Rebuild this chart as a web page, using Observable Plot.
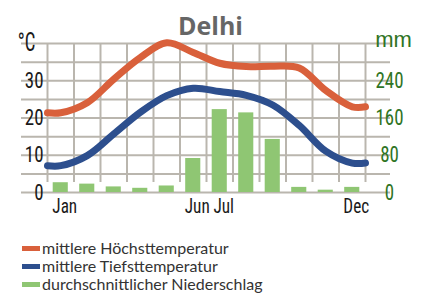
<!DOCTYPE html>
<html>
<head>
<meta charset="utf-8">
<script src="https://cdn.jsdelivr.net/npm/d3@7"></script>
<script src="https://cdn.jsdelivr.net/npm/@observablehq/plot@0.6"></script>
<style>
  html, body { margin: 0; padding: 0; background: #fff; }
  #wrap { position: relative; width: 430px; height: 299px; overflow: hidden; }
  #legend { position: absolute; left: 22px; top: 239px; font-family: "Lato", "Noto Sans", sans-serif; font-size: 16px; color: #333; }
  #legend .row { height: 18px; line-height: 18px; display: flex; align-items: center; white-space: nowrap; }
  #legend .sw { display: inline-block; width: 18px; height: 5px; margin-right: 2px; }
</style>
</head>
<body>
<div id="wrap">
  <div id="chart"></div>
  <div id="legend"></div>
</div>
<script>
const title = "Delhi";
const months = ["Jan","Feb","Mar","Apr","May","Jun","Jul","Aug","Sep","Oct","Nov","Dec"];
const monthTicks = ["Jan","Jun","Jul","Dec"];
const highTemp = [21.4, 24.1, 30.4, 36.2, 40.2, 37.6, 34.7, 33.8, 33.9, 33.4, 27.4, 23.0];
const lowTemp  = [7.2, 9.9, 15.7, 21.5, 26.0, 28.0, 27.1, 26.1, 23.5, 18.0, 11.1, 7.9];
const precip   = [21, 18, 12, 9, 14, 73, 178, 171, 114, 11, 5, 11];
const tempTicks = [0, 10, 20, 30];
const precipTicks = [0, 80, 160, 240];
const tempUnit = "°C";
const precipUnit = "mm";
const legendLabels = ["mittlere Höchsttemperatur", "mittlere Tiefsttemperatur", "durchschnittlicher Niederschlag"];
const colors = { high: "#d9603b", low: "#2d4f8e", precip: "#8fc673", grid: "#bab6ae", green: "#2f7424" };

const mmPerDeg = precipTicks[1] / tempTicks[1];
const rows = months.map((m, i) => ({ month: m, i: i + 1, high: highTemp[i], low: lowTemp[i], p: precip[i] / mmPerDeg }));
// extend curves flat to the frame edges
const edge = (key) => [{ i: 0.5, v: rows[0][key] }, ...rows.map(r => ({ i: r.i, v: r[key] })), { i: 12.5, v: rows[11][key] }];

const numFont = "'Roboto Condensed', 'DejaVu Sans Condensed', sans-serif";

const chart = Plot.plot({
  width: 430,
  height: 230,
  marginLeft: 47,
  marginRight: 65,
  marginTop: 43,
  marginBottom: 38,
  style: { fontFamily: numFont, background: "transparent", overflow: "visible" },
  x: { domain: [0.5, 12.5], axis: null },
  y: { domain: [0, 40], axis: null },
  marks: [
    Plot.ruleY(d3.range(0, 41, 5), { stroke: colors.grid, strokeWidth: 2, insetLeft: -26, insetRight: -25 }),
    Plot.ruleX(d3.range(0.5, 12.6, 1), { y1: 0, y2: 40, stroke: colors.grid, strokeWidth: 2, insetTop: -10 }),
    Plot.rectY(rows, { x1: d => d.i - 0.5, x2: d => d.i + 0.5, y1: 0, y2: "p", fill: colors.precip, insetLeft: 5.7, insetRight: 5.7 }),
    Plot.line(edge("high"), { x: "i", y: "v", stroke: colors.high, strokeWidth: 7, curve: "catmull-rom" }),
    Plot.line(edge("low"), { x: "i", y: "v", stroke: colors.low, strokeWidth: 7, curve: "catmull-rom" }),
    Plot.axisY({ ticks: tempTicks, tickSize: 0, tickPadding: 4, fontSize: 22, fill: "#1a1a1a", label: null }),
    Plot.axisY({ anchor: "right", ticks: tempTicks, tickSize: 0, tickPadding: 24, textAnchor: "middle",
      tickFormat: (d) => precipTicks[tempTicks.indexOf(d)], fontSize: 22, fill: colors.green, label: null }),
    Plot.axisX({ ticks: monthTicks.map(m => months.indexOf(m) + 1), tickFormat: d => months[d - 1], tickSize: 0, tickPadding: 6, dx: 4, fontSize: 20, fill: "#1a1a1a", label: null }),
    Plot.text([tempUnit], { frameAnchor: "top-left", dx: -21, dy: -11, textAnchor: "middle", fontSize: 26, fill: "#1a1a1a" }),
    Plot.text([precipUnit], { frameAnchor: "top-right", dx: 28, dy: -12, textAnchor: "middle", fontSize: 22, fontFamily: "'Liberation Sans', sans-serif", fill: colors.green }),
    Plot.text([title], { frameAnchor: "top", dx: 4, dy: -26, fontSize: 25, fontWeight: "bold", fontFamily: "'Open Sans', sans-serif", fill: "#666" })
  ]
});
document.getElementById("chart").appendChild(chart);

// condense glyphs horizontally to mimic the narrow typeface of the original
function condenseText(t, ratio) {
  const w = t.getComputedTextLength();
  t.setAttribute("textLength", (w * ratio).toFixed(2));
  t.setAttribute("lengthAdjust", "spacingAndGlyphs");
}
chart.querySelectorAll('g[aria-label="y-axis tick label"] text').forEach(t => condenseText(t, 0.86));
chart.querySelectorAll('g[aria-label="x-axis tick label"] text').forEach(t => condenseText(t, 0.86));
chart.querySelectorAll('g[aria-label="text"] text').forEach(t => {
  if (t.textContent === tempUnit) condenseText(t, 0.72);
});

const legendColors = [colors.high, colors.low, colors.precip];
const lg = document.getElementById("legend");
legendLabels.forEach((t, k) => {
  const row = document.createElement("div");
  row.className = "row";
  const sw = document.createElement("span");
  sw.className = "sw";
  sw.style.background = legendColors[k];
  row.appendChild(sw);
  row.appendChild(document.createTextNode(t));
  lg.appendChild(row);
});
</script>
</body>
</html>
